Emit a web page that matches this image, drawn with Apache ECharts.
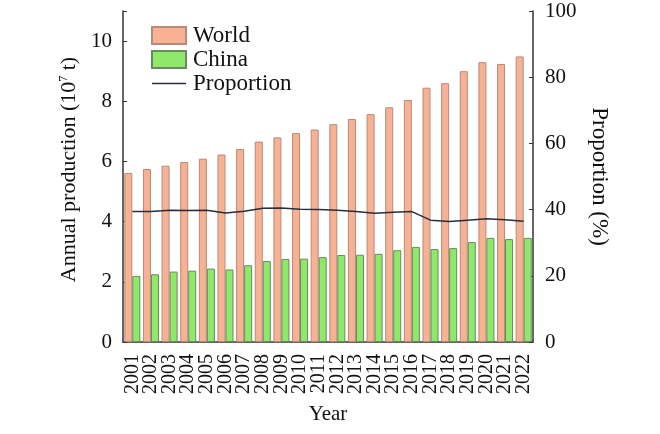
<!DOCTYPE html>
<html><head><meta charset="utf-8">
<script src="https://cdn.jsdelivr.net/npm/echarts@6/dist/echarts.min.js"></script>
<style>html,body{margin:0;padding:0;background:#fff}#c{width:660px;height:434px}</style>
</head><body><div id="c"></div>
<script>
const years = ['2001','2002','2003','2004','2005','2006','2007','2008','2009','2010','2011','2012','2013','2014','2015','2016','2017','2018','2019','2020','2021','2022'];
const world = [5.62,5.75,5.86,5.98,6.09,6.23,6.41,6.66,6.80,6.94,7.06,7.24,7.41,7.57,7.80,8.04,8.45,8.60,9.00,9.30,9.24,9.49];
const china = [2.20,2.25,2.34,2.37,2.44,2.41,2.55,2.69,2.76,2.77,2.82,2.89,2.90,2.93,3.05,3.16,3.09,3.12,3.32,3.46,3.42,3.46];
const proportion = [39.4,39.4,39.8,39.7,39.8,39.0,39.5,40.4,40.5,40.1,40.0,39.8,39.4,38.9,39.2,39.4,36.8,36.4,36.8,37.2,36.9,36.5];
const leftTicks = [0,2,4,6,8,10];
const leftTickMarks = [0,2,4,6,8,10,11];
const rightTicks = [0,20,40,60,80,100];

const font = 'Liberation Serif';
const chart = echarts.init(document.getElementById('c'));
chart.setOption({
  animation: false,
  textStyle: {fontFamily: font, color: '#111'},
  grid: {left: 123, right: 127, top: 11, bottom: 92, containLabel: false},
  legend: {
    left: 146, top: 19, orient: 'vertical', itemWidth: 34, itemHeight: 17, itemGap: 1,
    symbolKeepAspect: true,
    textStyle: {fontFamily: font, fontSize: 23, color: '#111', padding: [0,0,0,2]},
    data: [
      {name: 'World', icon: 'rect'},
      {name: 'China', icon: 'rect'},
      {name: 'Proportion', icon: 'path://M0,0H30V1.5H0Z', itemStyle: {color: '#2a2d3a', borderWidth: 0}}
    ]
  },
  xAxis: {
    type: 'category', data: years,
    name: 'Year', nameLocation: 'middle', nameGap: 62,
    nameTextStyle: {fontFamily: font, fontSize: 21, color: '#111'},
    axisLine: {lineStyle: {color: '#333', width: 1.5}},
    axisTick: {inside: true, length: 4, lineStyle: {color: '#333'}},
    axisLabel: {rotate: 90, fontFamily: font, fontSize: 20, color: '#111', margin: 12, interval: 0}
  },
  yAxis: [{
    type: 'value', min: 0, max: 11, interval: 2,
    name: 'Annual production (10{sup|7} t)', nameLocation: 'middle', nameGap: 42,
    nameTextStyle: {fontFamily: font, fontSize: 22, color: '#111', padding: [0,0,0,14],
      rich: {sup: {fontFamily: font, fontSize: 12, verticalAlign: 'top', color: '#111', padding: [0,0,9,0]}}},
    axisLine: {show: true, lineStyle: {color: '#333', width: 1.5}},
    axisTick: {show: true, inside: true, length: 4, lineStyle: {color: '#333'}, customValues: leftTickMarks},
    axisLabel: {fontFamily: font, fontSize: 21, color: '#111', margin: 11, customValues: leftTicks},
    splitLine: {show: false}
  },{
    type: 'value', min: 0, max: 100, interval: 20,
    name: 'Proportion (%)', nameLocation: 'middle', nameGap: 54, nameRotate: -90,
    nameTextStyle: {fontFamily: font, fontSize: 23, color: '#111'},
    axisLine: {show: true, lineStyle: {color: '#333', width: 1.5}},
    axisTick: {show: true, inside: true, length: 4, lineStyle: {color: '#333'}},
    axisLabel: {fontFamily: font, fontSize: 21, color: '#111', margin: 12, customValues: rightTicks},
    splitLine: {show: false}
  }],
  series: [{
    name: 'World', type: 'bar', data: world, barGap: '0%', barCategoryGap: '14%',
    itemStyle: {color: '#f7b193', borderColor: '#b88a78', borderWidth: 1}
  },{
    name: 'China', type: 'bar', data: china,
    itemStyle: {color: '#8ee86a', borderColor: '#6a8a60', borderWidth: 1}
  },{
    name: 'Proportion', type: 'line', yAxisIndex: 1, data: proportion,
    symbol: 'none', lineStyle: {color: '#2a2d3a', width: 1.5},
    itemStyle: {color: '#2a2d3a'}
  }]
});
</script></body></html>
